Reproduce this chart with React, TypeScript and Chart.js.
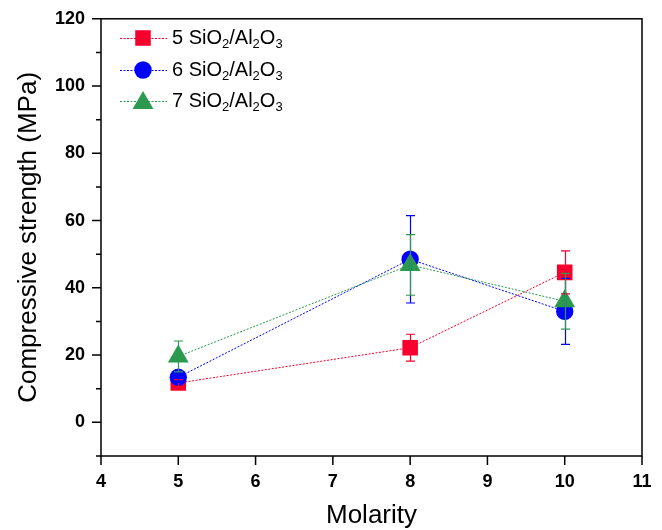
import React, { useEffect, useRef } from "react";
import { Chart, registerables } from "chart.js";

Chart.register(...registerables);

const molarity = [5, 8, 10];
const ratio5 = [11.7, 22.2, 44.6];
const ratio5Err = [1.0, 4.0, 6.4];
const ratio6 = [13.4, 48.5, 33.0];
const ratio6Err = [1.5, 13.0, 9.8];
const ratio7 = [19.6, 46.8, 36.0];
const ratio7Err = [4.6, 9.0, 8.3];

const xTicks = [4, 5, 6, 7, 8, 9, 10, 11];
const yMajorTicks = [0, 20, 40, 60, 80, 100, 120];
const yMinorTicks = [-10, 10, 30, 50, 70, 90, 110];

const seriesNames = ["5", "6", "7"];
const RED = "#F7002E";
const BLUE = "#0000FF";
const GREEN = "#2B9A4F";
const FONT = "'Liberation Sans', Arial, sans-serif";

const App = () => {
  const ref = useRef<HTMLCanvasElement | null>(null);
  useEffect(() => {
    const canvas = ref.current;
    if (!canvas) return;
    const series = [
      { name: seriesNames[0], vals: ratio5, errs: ratio5Err, color: RED, style: "rect", r: 11 },
      { name: seriesNames[1], vals: ratio6, errs: ratio6Err, color: BLUE, style: "circle", r: 8.7 },
      { name: seriesNames[2], vals: ratio7, errs: ratio7Err, color: GREEN, style: "triangle", r: 12 },
    ];
    const decor = {
      id: "decor",
      afterDatasetsDraw(chart: any) {
        const ctx = chart.ctx;
        const xs = chart.scales.x;
        const ys = chart.scales.y;
        ctx.save();
        series.forEach((s) => {
          ctx.strokeStyle = s.color;
          ctx.lineWidth = 1.2;
          molarity.forEach((m, i) => {
            const px = Math.round(xs.getPixelForValue(m)) + 0.5;
            const top = ys.getPixelForValue(s.vals[i] + s.errs[i]);
            const bot = ys.getPixelForValue(s.vals[i] - s.errs[i]);
            ctx.beginPath();
            ctx.moveTo(px, top);
            ctx.lineTo(px, bot);
            ctx.moveTo(px - 4.5, top);
            ctx.lineTo(px + 4.5, top);
            ctx.moveTo(px - 4.5, bot);
            ctx.lineTo(px + 4.5, bot);
            ctx.stroke();
          });
        });
        ctx.restore();
      },
      afterDraw(chart: any) {
        const ctx = chart.ctx;
        const xs = chart.scales.x;
        const ys = chart.scales.y;
        const a = chart.chartArea;
        ctx.save();
        ctx.strokeStyle = "#000";
        ctx.lineWidth = 1.5;
        ctx.strokeRect(a.left, a.top, a.right - a.left, a.bottom - a.top);
        ctx.beginPath();
        yMajorTicks.forEach((v) => {
          const py = ys.getPixelForValue(v);
          ctx.moveTo(a.left, py);
          ctx.lineTo(a.left - 9, py);
        });
        yMinorTicks.forEach((v) => {
          const py = ys.getPixelForValue(v);
          ctx.moveTo(a.left, py);
          ctx.lineTo(a.left - 5, py);
        });
        xTicks.forEach((v) => {
          const px = xs.getPixelForValue(v);
          ctx.moveTo(px, a.bottom);
          ctx.lineTo(px, a.bottom + 9);
        });
        ctx.stroke();

        ctx.fillStyle = "#000";
        ctx.font = `26px ${FONT}`;
        ctx.textAlign = "center";
        ctx.textBaseline = "middle";
        ctx.fillText("Molarity", (a.left + a.right) / 2, 516);
        ctx.save();
        ctx.translate(29, (a.top + a.bottom) / 2);
        ctx.rotate(-Math.PI / 2);
        ctx.fillText("Compressive strength (MPa)", 0, 0);
        ctx.restore();

        const rowY = [38, 70, 101];
        series.forEach((s, i) => {
          const y = rowY[i];
          ctx.save();
          ctx.strokeStyle = s.color;
          ctx.lineWidth = 1;
          ctx.setLineDash([2, 1.5]);
          ctx.beginPath();
          ctx.moveTo(120, y + 0.5);
          ctx.lineTo(167, y + 0.5);
          ctx.stroke();
          ctx.restore();
          ctx.fillStyle = s.color;
          const cx = 143;
          ctx.beginPath();
          if (s.style === "rect") {
            const h = s.r * Math.SQRT1_2;
            ctx.rect(cx - h, y - h, 2 * h, 2 * h);
          } else if (s.style === "circle") {
            ctx.arc(cx, y, s.r, 0, Math.PI * 2);
          } else {
            const ty = y + 2;
            ctx.moveTo(cx, ty - s.r);
            ctx.lineTo(cx + s.r * 0.866, ty + s.r / 2);
            ctx.lineTo(cx - s.r * 0.866, ty + s.r / 2);
            ctx.closePath();
          }
          ctx.fill();
          ctx.fillStyle = "#000";
          ctx.textAlign = "left";
          ctx.textBaseline = "middle";
          const parts: [string, boolean][] = [
            [s.name + " SiO", false],
            ["2", true],
            ["/Al", false],
            ["2", true],
            ["O", false],
            ["3", true],
          ];
          let tx = 172;
          parts.forEach(([t, sub]) => {
            ctx.font = sub ? `13px ${FONT}` : `20px ${FONT}`;
            ctx.fillText(t, tx, sub ? y + 6 : y);
            tx += ctx.measureText(t).width;
          });
        });
        ctx.restore();
      },
    };

    const chart = new Chart(canvas, {
      type: "line",
      data: {
        datasets: series.map((s, i) => ({
          label: s.name,
          data: molarity.map((m, j) => ({ x: m, y: s.vals[j] })),
          borderColor: s.color,
          backgroundColor: s.color,
          borderWidth: 1,
          borderDash: [2, 1.5],
          pointStyle: s.style as any,
          pointRadius: s.r,
          pointBorderWidth: 0,
          pointBackgroundColor: s.color,
          order: 3 - i,
          tension: 0,
        })),
      },
      options: {
        responsive: false,
        animation: false,
        events: [],
        layout: { padding: { top: 9, right: 20, left: 0, bottom: 0 } },
        plugins: { legend: { display: false }, tooltip: { enabled: false } },
        scales: {
          x: {
            type: "linear",
            min: 4,
            max: 11,
            grid: { display: false },
            border: { display: false },
            afterFit: (s: any) => {
              s.height = 74;
            },
            afterBuildTicks: (s: any) => {
              s.ticks = xTicks.map((v) => ({ value: v }));
            },
            ticks: {
              padding: 7,
              color: "#000",
              font: { family: FONT, size: 18, weight: "bold" },
              maxRotation: 0,
              autoSkip: false,
            },
          },
          y: {
            type: "linear",
            min: -10,
            max: 120,
            grid: { display: false },
            border: { display: false },
            afterFit: (s: any) => {
              s.width = 101;
            },
            afterBuildTicks: (s: any) => {
              s.ticks = yMajorTicks.map((v) => ({ value: v }));
            },
            ticks: {
              padding: 8,
              color: "#000",
              font: { family: FONT, size: 18, weight: "bold" },
              autoSkip: false,
            },
          },
        },
      },
      plugins: [decor],
    });
    return () => chart.destroy();
  }, []);

  return (
    <div style={{ position: "fixed", left: 0, top: 0, width: 662, height: 530, background: "#fff" }}>
      <canvas ref={ref} width={662} height={530} />
    </div>
  );
};

export default App;
